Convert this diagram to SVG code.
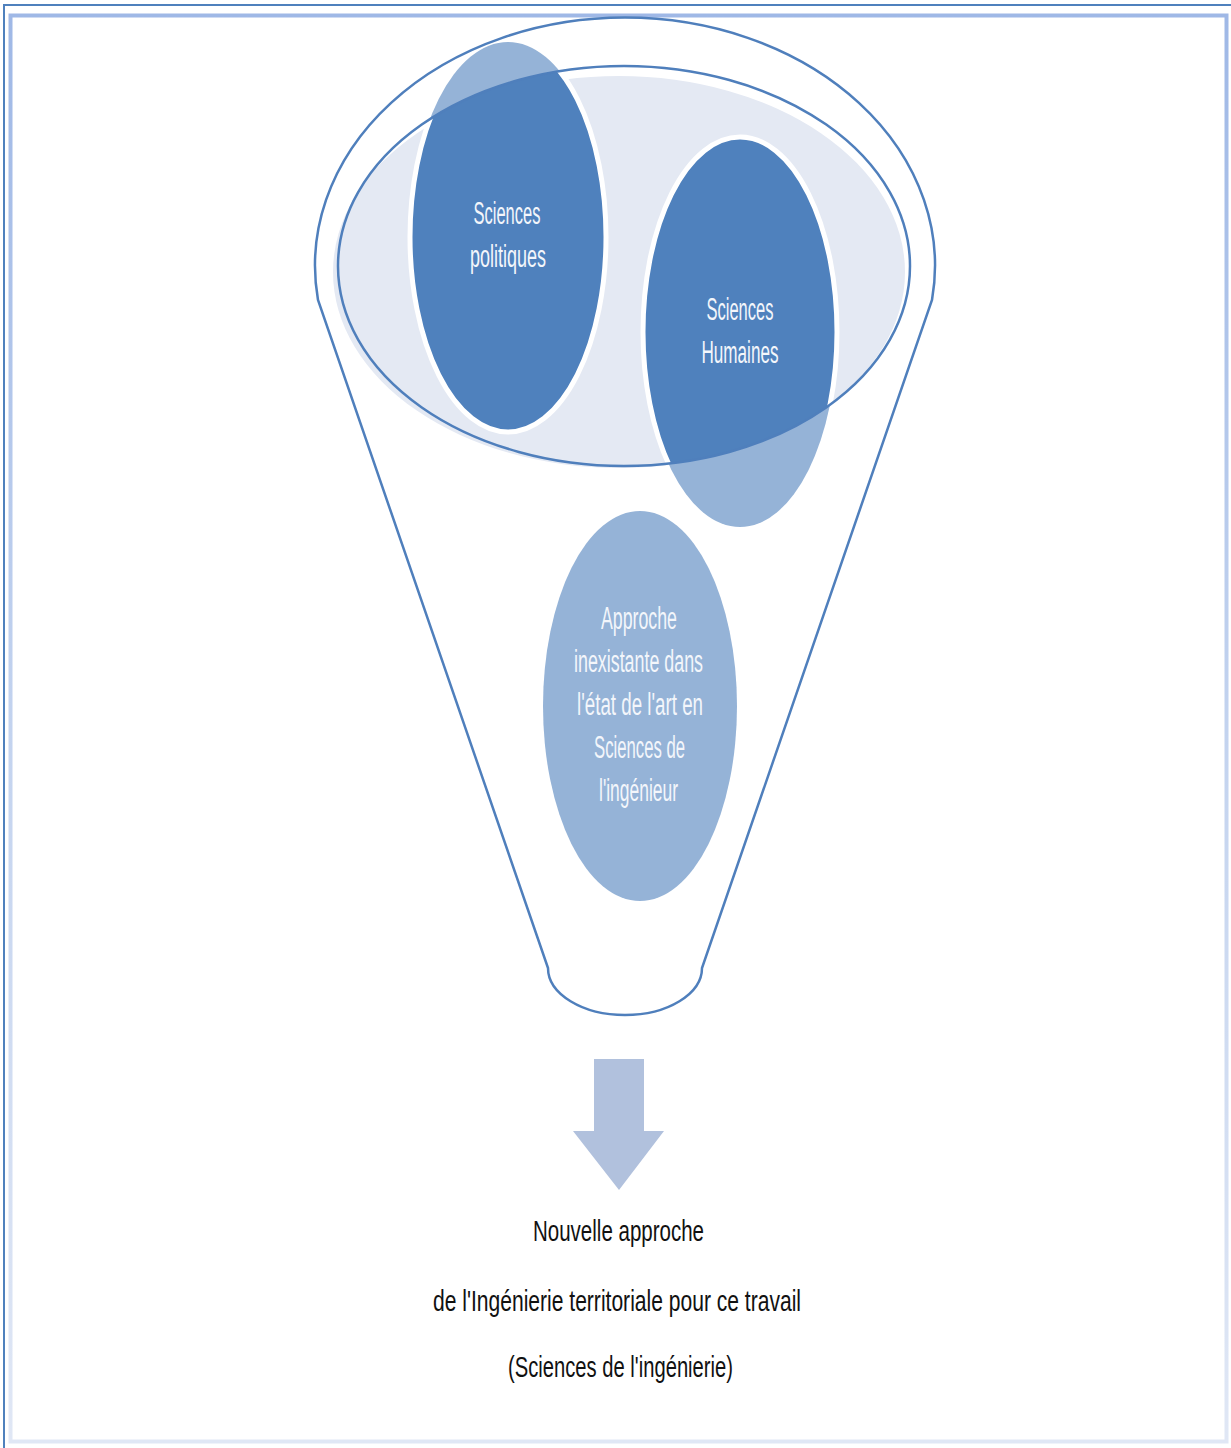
<svg xmlns="http://www.w3.org/2000/svg" width="1231" height="1448" viewBox="0 0 1231 1448">
<defs>
<style>
.wt{font-family:"Liberation Sans",Arial,sans-serif;font-size:31px;fill:#f3f6fb;text-anchor:middle}
.bt{font-family:"Liberation Sans",Arial,sans-serif;font-size:30px;fill:#111111;text-anchor:middle}
.outline{fill:none;stroke:#4f7fbc;stroke-width:2.5}
.light{fill:#95b3d7}
.dark{fill:#4f81bd}
.ring{fill:none;stroke:#ffffff;stroke-width:5}
</style>
<linearGradient id="frameGrad" x1="0" y1="0" x2="0" y2="1">
<stop offset="0" stop-color="#9fb8e6"/>
<stop offset="0.5" stop-color="#c3d3ef"/>
<stop offset="1" stop-color="#e0e7f5"/>
</linearGradient>
<clipPath id="scopeClip">
<ellipse cx="624" cy="266" rx="286" ry="200"/>
</clipPath>
</defs>
<rect x="0" y="0" width="1231" height="1448" fill="#ffffff"/>
<g id="frame">
<rect x="10.5" y="15.5" width="1216" height="1426" fill="none" stroke="url(#frameGrad)" stroke-width="4"/>
<line x1="3" y1="5" x2="1231" y2="5" stroke="#4f81bd" stroke-width="2"/>
<line x1="4" y1="5" x2="4" y2="1448" stroke="#4f81bd" stroke-width="2"/>
</g>
<g id="funnel">
<path class="outline" d="M318,300 A310 248 0 1 1 932,300 L702,968 A77 47 0 0 1 548,968 Z"/>
</g>
<g id="scope">
<ellipse cx="619" cy="272" rx="286" ry="196" fill="#e4e9f3"/>
</g>
<g id="sciences-politiques">
<ellipse class="light" cx="508" cy="237" rx="98" ry="195"/>
<ellipse class="dark" cx="508" cy="237" rx="98" ry="195" clip-path="url(#scopeClip)"/>
<ellipse class="ring" cx="508" cy="237" rx="98" ry="195" clip-path="url(#scopeClip)"/>
<text class="wt" x="507" y="224" textLength="67" lengthAdjust="spacingAndGlyphs">Sciences</text>
<text class="wt" x="508" y="267" textLength="76" lengthAdjust="spacingAndGlyphs">politiques</text>
</g>
<g id="sciences-humaines">
<ellipse class="light" cx="740" cy="332" rx="97" ry="195"/>
<ellipse class="dark" cx="740" cy="332" rx="97" ry="195" clip-path="url(#scopeClip)"/>
<ellipse class="ring" cx="740" cy="332" rx="97" ry="195" clip-path="url(#scopeClip)"/>
<text class="wt" x="740" y="320" textLength="67" lengthAdjust="spacingAndGlyphs">Sciences</text>
<text class="wt" x="740" y="363" textLength="77" lengthAdjust="spacingAndGlyphs">Humaines</text>
</g>
<g id="scope-outline">
<ellipse class="outline" cx="624" cy="266" rx="286" ry="200"/>
</g>
<g id="approche">
<ellipse class="light" cx="640" cy="706" rx="97" ry="195"/>
<text class="wt" x="639" y="629" textLength="76" lengthAdjust="spacingAndGlyphs">Approche</text>
<text class="wt" x="638.5" y="672" textLength="129" lengthAdjust="spacingAndGlyphs">inexistante dans</text>
<text class="wt" x="640" y="715" textLength="126" lengthAdjust="spacingAndGlyphs">l'état de l'art en</text>
<text class="wt" x="639.5" y="758" textLength="91" lengthAdjust="spacingAndGlyphs">Sciences de</text>
<text class="wt" x="638.5" y="801" textLength="79" lengthAdjust="spacingAndGlyphs">l'ingénieur</text>
</g>
<g id="connectors">
<polygon points="594,1059 644,1059 644,1131 664,1131 619,1190 573,1131 594,1131" fill="#b1c1dd"/>
</g>
<g id="result">
<text class="bt" x="618.5" y="1241" textLength="171" lengthAdjust="spacingAndGlyphs">Nouvelle approche</text>
<text class="bt" x="617" y="1311" textLength="368" lengthAdjust="spacingAndGlyphs">de l'Ingénierie territoriale pour ce travail</text>
<text class="bt" x="620.5" y="1377" textLength="225" lengthAdjust="spacingAndGlyphs">(Sciences de l'ingénierie)</text>
</g>
</svg>
